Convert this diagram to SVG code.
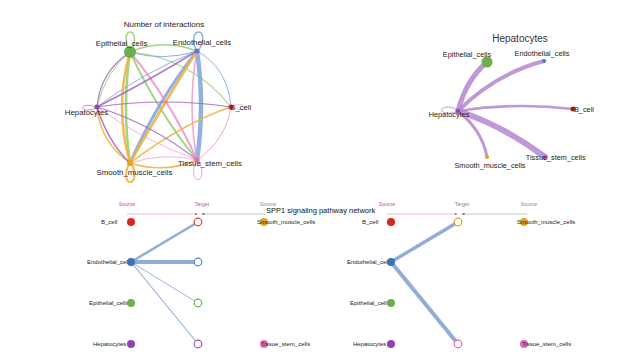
<svg xmlns="http://www.w3.org/2000/svg" width="639" height="363" viewBox="0 0 639 363">
<defs>
<style>
text{font-family:"Liberation Sans",Arial,sans-serif;fill:#222}
.t1{font-size:7.8px;text-anchor:middle}
.t2{font-size:7.3px;text-anchor:middle}
.t3{font-size:6px}
.hd{font-size:5.2px;text-anchor:middle}
.e{fill:none;stroke-linecap:round}
.g{stroke:#8fce6e;opacity:.85}
.b{stroke:#7fa3dc;opacity:.85}
.o{stroke:#f1b33c;opacity:.9}
.p{stroke:#ec93cb;opacity:.85}
.u{stroke:#a463bf;opacity:.85}
.r{stroke:#f0a0a0;opacity:.8}
.hp{fill:none;stroke:#b585d0;opacity:.85;stroke-linecap:round}
.sb{fill:none;stroke:#7d9fd4;opacity:.85}
.tg{fill:#fff;stroke-width:1.2}
</style>
<marker id="apk" viewBox="0 0 6 6" refX="5" refY="3" markerWidth="5" markerHeight="5" orient="auto"><path d="M0,0.8L6,3L0,5.2z" fill="#c2358f"/></marker>
<marker id="agr" viewBox="0 0 6 6" refX="5" refY="3" markerWidth="5" markerHeight="5" orient="auto"><path d="M0,0.8L6,3L0,5.2z" fill="#4a6a5c"/></marker>
</defs>
<rect width="639" height="363" fill="#fff"/>

<g id="connectors">
<path class="e g" stroke-width="1.5" d="M129,50 C118,26 142,26 132,50"/>
<path class="e b" stroke-width="1.5" d="M196,50 C186,26 212,26 199,50"/>
<path class="e r" stroke-width="0.8" d="M232,106 C248,100 252,114 232,108"/>
<path class="e u" stroke-width="0.8" d="M96,107 C78,100 78,116 96,108"/>
<path class="e p" stroke-width="1" d="M196,161 C186,186 210,186 199,161"/>
<path class="e o" stroke-width="2" d="M129,164 C118,188 142,188 132,164"/>
<path class="e g" stroke-width="1.5" d="M130,52 Q163,38 197,51"/>
<path class="e g" stroke-width="1" d="M130,52 Q105,72 97,107"/>
<path class="e g" stroke-width="2.5" d="M130,52 Q122,107 130,163"/>
<path class="e g" stroke-width="1.8" d="M130,52 Q158,112 197,160"/>
<path class="e g" stroke-width="1.2" d="M130,52 Q192,58 231,107"/>
<path class="e b" stroke-width="1" d="M197,51 Q140,74 97,107"/>
<path class="e b" stroke-width="1" d="M197,51 Q163,62 130,52"/>
<path class="e b" stroke-width="3" d="M197,51 Q158,100 130,163"/>
<path class="e b" stroke-width="4.5" d="M197,51 Q205,105 197,160"/>
<path class="e b" stroke-width="1" d="M197,51 Q228,68 231,107"/>
<path class="e p" stroke-width="2" d="M197,160 Q170,100 130,52"/>
<path class="e p" stroke-width="1.5" d="M197,160 Q187,105 197,51"/>
<path class="e p" stroke-width="1" d="M197,160 Q226,140 231,107"/>
<path class="e p" stroke-width="0.8" d="M197,160 Q142,140 97,107"/>
<path class="e p" stroke-width="0.8" d="M197,160 Q164,152 130,163"/>
<path class="e o" stroke-width="2.5" d="M130,163 Q114,107 130,52"/>
<path class="e o" stroke-width="2.5" d="M130,163 Q166,100 197,51"/>
<path class="e o" stroke-width="1.5" d="M130,163 Q185,122 231,107"/>
<path class="e o" stroke-width="1.5" d="M130,163 Q100,142 97,107"/>
<path class="e o" stroke-width="1.5" d="M130,163 Q164,174 197,160"/>
<path class="e u" stroke-width="1.2" d="M97,107 Q100,72 130,52"/>
<path class="e u" stroke-width="1.5" d="M97,107 Q150,80 197,51"/>
<path class="e u" stroke-width="1.2" d="M97,107 Q164,97 231,107"/>
<path class="e u" stroke-width="1.2" d="M97,107 Q152,124 197,160"/>
<path class="e u" stroke-width="1.5" d="M97,107 Q108,142 130,163"/>

<path class="hp" stroke-width="1" d="M458,110 C440,100 432,118 458,112"/>
<path class="hp" stroke-width="5" d="M458,111 Q466,80 487,62"/>
<path class="hp" stroke-width="4" d="M458,111 Q495,74 544,61"/>
<path class="hp" stroke-width="2.5" d="M458,111 Q515,102 573,109"/>
<path class="hp" stroke-width="6" d="M458,111 Q502,125 545,157"/>
<path class="hp" stroke-width="3" d="M458,111 Q482,130 487,157"/>

<line x1="127" y1="214" x2="197" y2="214" stroke="#e083bd" stroke-width="0.6" marker-end="url(#apk)"/>
<line x1="266" y1="214" x2="202" y2="214" stroke="#8fa89d" stroke-width="0.6" marker-end="url(#agr)"/>
<line class="sb" x1="131" y1="262" x2="198" y2="222" stroke-width="2.5"/>
<line class="sb" x1="131" y1="262" x2="198" y2="262" stroke-width="4"/>
<line class="sb" x1="131" y1="262" x2="198" y2="303" stroke-width="0.9"/>
<line class="sb" x1="131" y1="262" x2="198" y2="344" stroke-width="1.1"/>
<line x1="387" y1="214" x2="457" y2="214" stroke="#e083bd" stroke-width="0.6" marker-end="url(#apk)"/>
<line x1="527" y1="214" x2="462" y2="214" stroke="#8fa89d" stroke-width="0.6" marker-end="url(#agr)"/>
<line class="sb" x1="391" y1="262" x2="458" y2="222" stroke-width="3.5"/>
<line class="sb" x1="391" y1="262" x2="458" y2="344" stroke-width="4"/>
</g>

<text class="t1" x="164" y="26.5" style="font-size:8px">Number of interactions</text>
<g id="c_epithelial"><circle cx="130" cy="52" r="6" fill="#6ab04c"/><text class="t1" x="121.5" y="45.5">Epithelial_cells</text></g>
<g id="c_endothelial"><circle cx="197" cy="51" r="2.5" fill="#4f7fc9"/><text class="t1" x="202" y="45">Endothelial_cells</text></g>
<g id="c_bcell"><circle cx="231" cy="107" r="2.5" fill="#d42a1a"/><text class="t1" x="230" y="110" style="text-anchor:start">B_cell</text></g>
<g id="c_hepatocytes"><circle cx="97" cy="107" r="2.5" fill="#8e44ad"/><text class="t1" x="86.5" y="115">Hepatocytes</text></g>
<g id="c_smooth"><circle cx="130" cy="163" r="3" fill="#e8a020"/><text class="t1" x="134.5" y="175">Smooth_muscle_cells</text></g>
<g id="c_tissue"><circle cx="197" cy="160" r="2.5" fill="#e06bb3"/><text class="t1" x="210" y="166">Tissue_stem_cells</text></g>

<text x="520" y="41.5" style="font-size:10px;text-anchor:middle;fill:#333">Hepatocytes</text>
<g id="h_epithelial"><circle cx="487" cy="62" r="5.5" fill="#6ab04c"/><text class="t2" x="467" y="56.5">Epithelial_cells</text></g>
<g id="h_endothelial"><circle cx="544" cy="61" r="2" fill="#4f7fc9"/><text class="t2" x="542" y="55.5">Endothelial_cells</text></g>
<g id="h_bcell"><circle cx="573" cy="109" r="2.5" fill="#9b1b12"/><text class="t2" x="574" y="111.5" style="text-anchor:start">B_cell</text></g>
<g id="h_hepatocytes"><circle cx="458" cy="111" r="2" fill="#8e44ad"/><text class="t2" x="449" y="116.5">Hepatocytes</text></g>
<g id="h_smooth"><circle cx="487" cy="157" r="2" fill="#e8a020"/><text class="t2" x="490" y="167.5">Smooth_muscle_cells</text></g>
<g id="h_tissue"><circle cx="545" cy="157" r="2.5" fill="#e06bb3"/><text class="t2" x="555.7" y="159.5">Tissue_stem_cells</text></g>

<text class="hd" x="127" y="206" style="fill:#d0479f">Source</text>
<text class="hd" x="202" y="206" style="fill:#c25a9a">Target</text>
<text class="hd" x="268" y="206" style="fill:#6f9a8c">Source</text>
<text class="hd" x="387" y="206" style="fill:#d0479f">Source</text>
<text class="hd" x="462" y="206" style="fill:#7a8a86">Target</text>
<text class="hd" x="529" y="206" style="fill:#6f9a8c">Source</text>
<text x="266" y="212.5" style="font-size:7.5px;fill:#111">SPP1 signaling pathway network</text>

<g id="l_src_bcell"><text class="t3" x="101" y="224">B_cell</text><circle cx="131" cy="222" r="4" fill="#d42a1a"/></g>
<g id="l_src_endothelial"><text class="t3" x="87" y="264">Endothelial_cells</text><circle cx="131" cy="262" r="4" fill="#3f6fb5"/></g>
<g id="l_src_epithelial"><text class="t3" x="89" y="305">Epithelial_cells</text><circle cx="131" cy="303" r="4" fill="#6ab04c"/></g>
<g id="l_src_hepatocytes"><text class="t3" x="93" y="346">Hepatocytes</text><circle cx="131" cy="344" r="4" fill="#8e44ad"/></g>
<g id="l_tgt_bcell"><circle class="tg" cx="198" cy="222" r="3.8" stroke="#d8402a"/></g>
<g id="l_tgt_endothelial"><circle class="tg" cx="198" cy="262" r="3.8" stroke="#4f7fc9"/></g>
<g id="l_tgt_epithelial"><circle class="tg" cx="198" cy="303" r="3.8" stroke="#6ab04c"/></g>
<g id="l_tgt_hepatocytes"><circle class="tg" cx="198" cy="344" r="3.8" stroke="#9a55b8"/></g>
<g id="l_src_smooth"><circle cx="264" cy="222" r="4" fill="#e8a020"/><text class="t3" x="257" y="224">Smooth_muscle_cells</text></g>
<g id="l_src_tissue"><circle cx="264" cy="344" r="4" fill="#e06bb3"/><text class="t3" x="261" y="346">Tissue_stem_cells</text></g>

<g id="r_src_bcell"><text class="t3" x="362" y="224">B_cell</text><circle cx="391" cy="222" r="4" fill="#d42a1a"/></g>
<g id="r_src_endothelial"><text class="t3" x="347" y="264">Endothelial_cells</text><circle cx="391" cy="262" r="4" fill="#3f6fb5"/></g>
<g id="r_src_epithelial"><text class="t3" x="350" y="305">Epithelial_cells</text><circle cx="391" cy="303" r="4" fill="#6ab04c"/></g>
<g id="r_src_hepatocytes"><text class="t3" x="353" y="346">Hepatocytes</text><circle cx="391" cy="344" r="4" fill="#8e44ad"/></g>
<g id="r_tgt_smooth"><circle class="tg" cx="458" cy="222" r="3.8" stroke="#e8a020"/></g>
<g id="r_tgt_tissue"><circle class="tg" cx="458" cy="344" r="3.8" stroke="#e06bb3"/></g>
<g id="r_src_smooth"><circle cx="524" cy="222" r="4" fill="#e8a020"/><text class="t3" x="517" y="224">Smooth_muscle_cells</text></g>
<g id="r_src_tissue"><circle cx="524" cy="344" r="4" fill="#e06bb3"/><text class="t3" x="522" y="346">Tissue_stem_cells</text></g>
</svg>
